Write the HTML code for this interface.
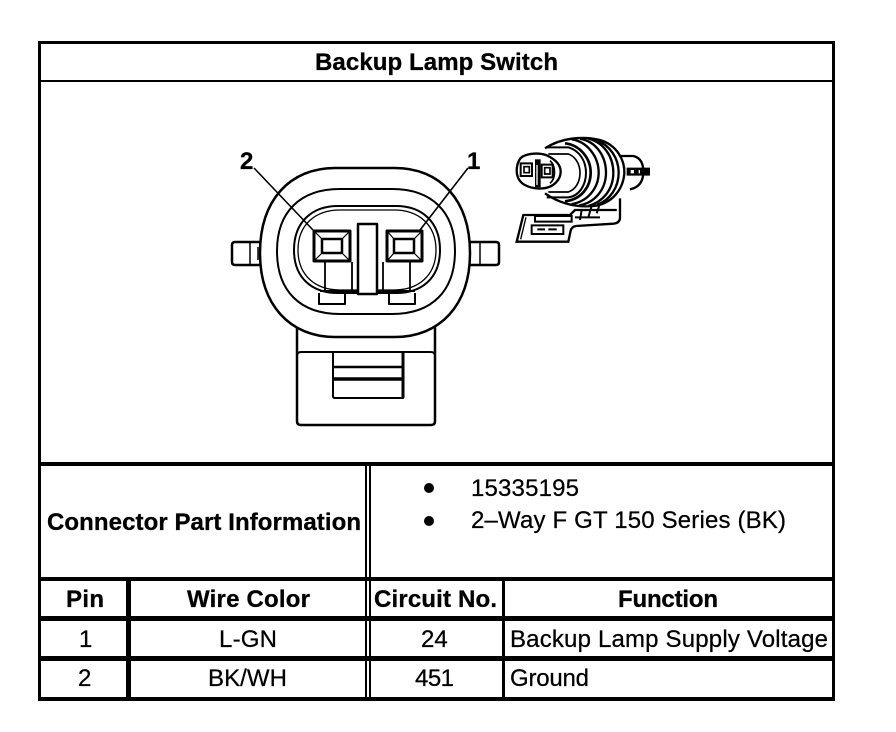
<!DOCTYPE html>
<html><head><meta charset="utf-8"><style>
html,body{margin:0;padding:0;background:#fff;width:896px;height:732px;overflow:hidden}
svg{display:block}
text{font-family:"Liberation Sans",Arial,sans-serif;fill:#000;font-size:24px;stroke:#000;stroke-width:.25px}
.b{font-weight:bold;stroke-width:.3px}
</style></head><body>
<svg width="896" height="732" viewBox="0 0 896 732" xmlns="http://www.w3.org/2000/svg">
<rect width="896" height="732" fill="#fff"/>
<!-- table lines -->
<g fill="#000" shape-rendering="crispEdges">
<rect x="38" y="41" width="797" height="3"/>
<rect x="38" y="41" width="3" height="660"/>
<rect x="832" y="41" width="3" height="660"/>
<rect x="38" y="697" width="797" height="4"/>
<rect x="38" y="80" width="797" height="2"/>
<rect x="38" y="462" width="797" height="4"/>
<rect x="38" y="577" width="797" height="4"/>
<rect x="38" y="616" width="797" height="5"/>
<rect x="38" y="656" width="797" height="5"/>
<rect x="365" y="462" width="2" height="239"/>
<rect x="369" y="462" width="2" height="239"/>
<rect x="126" y="577" width="5" height="124"/>
<rect x="502" y="577" width="3" height="124"/>
</g>
<!-- table text -->
<text class="b" x="315" y="70" textLength="243" lengthAdjust="spacing">Backup Lamp Switch</text>
<text class="b" x="47" y="530" textLength="314" lengthAdjust="spacing">Connector Part Information</text>
<circle cx="429" cy="488" r="5" fill="#000"/>
<circle cx="429" cy="521" r="5" fill="#000"/>
<text x="471" y="496" textLength="108" lengthAdjust="spacing">15335195</text>
<text x="471" y="528" textLength="315" lengthAdjust="spacing">2–Way F GT 150 Series (BK)</text>
<text class="b" x="66" y="607" textLength="38" lengthAdjust="spacing">Pin</text>
<text class="b" x="187" y="607" textLength="123" lengthAdjust="spacing">Wire Color</text>
<text class="b" x="374" y="607" textLength="123" lengthAdjust="spacing">Circuit No.</text>
<text class="b" x="618" y="607" textLength="100" lengthAdjust="spacing">Function</text>
<text x="79" y="647">1</text>
<text x="219" y="647" textLength="58" lengthAdjust="spacing">L-GN</text>
<text x="421" y="647">24</text>
<text x="510" y="647" textLength="318" lengthAdjust="spacing">Backup Lamp Supply Voltage</text>
<text x="78" y="686">2</text>
<text x="208" y="686" textLength="79" lengthAdjust="spacing">BK/WH</text>
<text x="415" y="686" textLength="39" lengthAdjust="spacing">451</text>
<text x="510" y="686" textLength="79" lengthAdjust="spacing">Ground</text>
<!-- main connector -->
<text class="b" x="240" y="169">2</text>
<text class="b" x="467" y="169">1</text>
<g fill="none" stroke="#000" stroke-linejoin="round">
<!-- lock housing -->
<path d="M297 320V421Q297 425 301 425H431Q435 425 435 421V320" stroke-width="2.5" fill="#fff"/>
<path d="M297 356Q297 352 301 352H431Q435 352 435 356" stroke-width="2"/>
<path d="M333 352V396Q333 398 335 398H403V352" stroke-width="2"/>
<path d="M403 352V398" stroke-width="3"/>
<path d="M333 367H403" stroke-width="2.5"/>
<path d="M333 379H403" stroke-width="3.5"/>
<!-- side tabs -->
<path d="M260 242H235Q232 242 232 245V262Q232 265 235 265H260" stroke-width="2.5"/>
<path d="M250 242V265M258 247V260" stroke-width="1.5"/>
<path d="M470 242H496Q499 242 499 245V262Q499 265 496 265H470" stroke-width="2.5"/>
<path d="M480 242V265" stroke-width="1.5"/>
<!-- outer body -->
<path d="M260 253C260 200 290 168 335 168H395C440 168 470 200 470 253C470 305 440 337 395 337H335C290 337 260 305 260 253Z" stroke-width="2.5" fill="#fff"/>
<path d="M277 251C277 212 300 189 340 189H392C432 189 455 212 455 251C455 291 432 314 392 314H340C300 314 277 291 277 251Z" stroke-width="2"/>
<!-- inner double oval -->
<path d="M294 250C294 222 312 206 338 206H396C422 206 440 222 440 250C440 278 422 293 396 293H338C312 293 294 278 294 250Z" stroke-width="2" fill="#fff"/>
<path d="M298 250C298 225 315 210 340 210H394C419 210 436 225 436 250C436 275 419 290 394 290H340C315 290 298 275 298 250Z" stroke-width="1.3"/>
<!-- lower tabs -->
<path d="M319 293V304H345V293M389 293V304H415V293" stroke-width="2"/>
<!-- floor line and stems -->
<path d="M325 262V290M352 262V290M383 262V290M410 262V290" stroke-width="1.8"/>
<path d="M320 291H357M377 291H415" stroke-width="2"/>
<!-- center bar -->
<rect x="358" y="224" width="19" height="70" stroke-width="2.5" fill="#fff"/>
<!-- terminals -->
<g stroke-width="2">
<rect x="314" y="231" width="36" height="30" stroke-width="3" fill="#fff"/>
<rect x="322" y="239" width="20" height="14" stroke-width="2.5"/>
<path d="M314 231L322 239M350 231L342 239M314 261L322 253M350 261L342 253" stroke-width="1.2"/>
<rect x="387" y="231" width="35" height="30" stroke-width="3" fill="#fff"/>
<rect x="394" y="239" width="20" height="14" stroke-width="2.5"/>
<path d="M387 231L394 239M422 231L414 239M387 261L394 253M422 261L414 253" stroke-width="1.2"/>
</g>
<!-- leaders -->
<path d="M254 168L313 230M468 168L420 230" stroke-width="1.6"/>
</g>
<!-- small connector, zoom coordinates -->
<g transform="translate(500,130) scale(.33333)" fill="none" stroke="#000" stroke-width="7">
<path d="M355 78H400Q430 85 430 125Q430 170 390 178"/>
<path d="M380 125H450" stroke-width="24"/>
<path d="M392 125H402M416 125H420" stroke="#fff" stroke-width="10"/>
<path d="M135 55C185 22 250 18 300 30C350 45 375 90 373 130C369 180 335 222 280 228C220 234 170 215 135 190" fill="#fff"/>
<path d="M215 28C262 35 296 80 296 128C296 175 262 215 215 222" />
<path d="M240 26C290 35 318 80 318 128C318 178 285 218 238 226"/>
<path d="M265 26C312 38 340 80 340 128C340 178 310 215 265 228"/>
<path d="M288 30C330 45 356 85 356 128C356 172 330 210 292 224"/>
<path d="M195 40C240 45 272 85 272 128C272 170 245 208 195 214" stroke-width="8"/>
<path d="M140 52H205C240 62 258 95 258 128C258 165 238 198 205 202H140" stroke-width="6"/>
<path d="M145 72H205C228 80 240 105 240 128C240 155 228 178 205 186H145" stroke-width="5"/>
<path d="M62 84C80 68 120 68 140 76C170 90 182 108 182 125C182 150 160 172 130 175C100 178 65 168 55 145C46 125 50 100 62 84Z" fill="#fff" stroke-width="7"/>
<path d="M150 92C168 108 168 145 150 160" stroke-width="5"/>
<path d="M105 88H122V172H105Z" fill="#000" stroke="none"/>
<path d="M111 105V165" stroke="#fff" stroke-width="4"/>
<path d="M62 100H96V138H62ZM125 104H158V142H125Z" stroke-width="6"/>
<path d="M72 110H88V128H72ZM134 113H150V132H134Z" stroke-width="5"/>
<path d="M360 205V265Q358 280 340 281L228 288Q215 290 212 302L205 335H50L70 255H210L225 240H350" fill="#fff" stroke-width="7"/>
<path d="M245 240L240 270M275 228L265 262M298 226L290 250M305 240H350M225 262H300" stroke-width="6"/>
<path d="M105 258H215V275H105ZM95 286H190V312H95ZM112 298H135M145 298H170" stroke-width="6"/>
<path d="M78 262L62 328" stroke-width="4"/>
</g>
</svg>
</body></html>
